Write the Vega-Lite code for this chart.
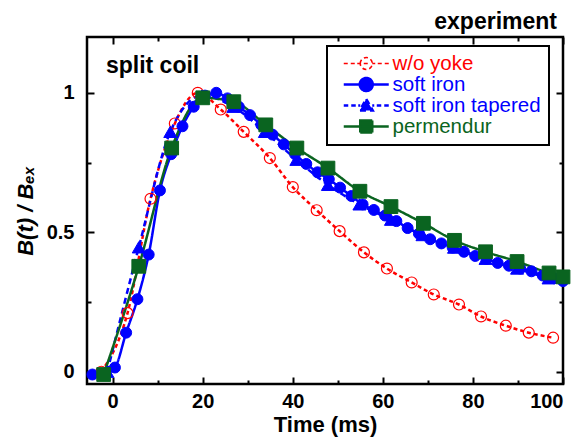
{
  "$schema": "https://vega.github.io/schema/vega-lite/v6.json",
  "width": 476,
  "height": 347,
  "autosize": {"type": "none"},
  "padding": {"left": 87, "top": 37, "right": 20, "bottom": 55},
  "background": "white",
  "config": {
    "view": {"stroke": "black", "strokeWidth": 2.5},
    "font": "Liberation Sans",
    "axis": {
      "domain": false, "grid": false, "tickColor": "black", "tickWidth": 2,
      "labelColor": "black", "titleColor": "black",
      "labelFont": "Liberation Sans", "titleFont": "Liberation Sans",
      "labelFontWeight": "bold", "labelFontSize": 20,
      "titleFontSize": 22, "titleFontWeight": "bold"
    }
  },
  "title": {"text": "experiment", "anchor": "end", "frame": "group", "fontSize": 23, "fontWeight": "bold", "font": "Liberation Sans", "color": "black", "offset": 2, "dx": -6},
  "datasets": {
    "curves": [
      {"series": "w/o yoke", "t": -2.5, "b": 0.0},
      {"series": "w/o yoke", "t": 3.3, "b": 0.21},
      {"series": "w/o yoke", "t": 8.4, "b": 0.62},
      {"series": "w/o yoke", "t": 13.8, "b": 0.89},
      {"series": "w/o yoke", "t": 18.9, "b": 1.0},
      {"series": "w/o yoke", "t": 24.0, "b": 0.94},
      {"series": "w/o yoke", "t": 29.1, "b": 0.86},
      {"series": "w/o yoke", "t": 34.9, "b": 0.766},
      {"series": "w/o yoke", "t": 40.0, "b": 0.662},
      {"series": "w/o yoke", "t": 45.3, "b": 0.579},
      {"series": "w/o yoke", "t": 50.4, "b": 0.504},
      {"series": "w/o yoke", "t": 55.8, "b": 0.428},
      {"series": "w/o yoke", "t": 60.9, "b": 0.37},
      {"series": "w/o yoke", "t": 66.4, "b": 0.32},
      {"series": "w/o yoke", "t": 71.3, "b": 0.277},
      {"series": "w/o yoke", "t": 76.9, "b": 0.241},
      {"series": "w/o yoke", "t": 81.8, "b": 0.198},
      {"series": "w/o yoke", "t": 87.3, "b": 0.165},
      {"series": "w/o yoke", "t": 92.4, "b": 0.14},
      {"series": "w/o yoke", "t": 97.8, "b": 0.122},
      {"series": "soft iron", "t": -4.5, "b": -0.01},
      {"series": "soft iron", "t": -2.0, "b": -0.01},
      {"series": "soft iron", "t": 0.5, "b": 0.015},
      {"series": "soft iron", "t": 3.0, "b": 0.14},
      {"series": "soft iron", "t": 5.5, "b": 0.26},
      {"series": "soft iron", "t": 8.0, "b": 0.42},
      {"series": "soft iron", "t": 10.5, "b": 0.65},
      {"series": "soft iron", "t": 13.0, "b": 0.78},
      {"series": "soft iron", "t": 15.5, "b": 0.88},
      {"series": "soft iron", "t": 18.0, "b": 0.95},
      {"series": "soft iron", "t": 20.5, "b": 0.99},
      {"series": "soft iron", "t": 23.0, "b": 1.0},
      {"series": "soft iron", "t": 25.5, "b": 0.98},
      {"series": "soft iron", "t": 28.0, "b": 0.95},
      {"series": "soft iron", "t": 30.5, "b": 0.92},
      {"series": "soft iron", "t": 33.0, "b": 0.885},
      {"series": "soft iron", "t": 35.5, "b": 0.85},
      {"series": "soft iron", "t": 38.0, "b": 0.815},
      {"series": "soft iron", "t": 40.5, "b": 0.78},
      {"series": "soft iron", "t": 43.0, "b": 0.745},
      {"series": "soft iron", "t": 45.5, "b": 0.715},
      {"series": "soft iron", "t": 48.0, "b": 0.69},
      {"series": "soft iron", "t": 50.5, "b": 0.66},
      {"series": "soft iron", "t": 53.0, "b": 0.63},
      {"series": "soft iron", "t": 55.5, "b": 0.6},
      {"series": "soft iron", "t": 58.0, "b": 0.58},
      {"series": "soft iron", "t": 60.5, "b": 0.56},
      {"series": "soft iron", "t": 63.0, "b": 0.54},
      {"series": "soft iron", "t": 65.5, "b": 0.515},
      {"series": "soft iron", "t": 68.0, "b": 0.495},
      {"series": "soft iron", "t": 70.5, "b": 0.475},
      {"series": "soft iron", "t": 73.0, "b": 0.46},
      {"series": "soft iron", "t": 75.5, "b": 0.445},
      {"series": "soft iron", "t": 78.0, "b": 0.43},
      {"series": "soft iron", "t": 80.5, "b": 0.415},
      {"series": "soft iron", "t": 83.0, "b": 0.405},
      {"series": "soft iron", "t": 85.5, "b": 0.39},
      {"series": "soft iron", "t": 88.0, "b": 0.38},
      {"series": "soft iron", "t": 90.5, "b": 0.37},
      {"series": "soft iron", "t": 93.0, "b": 0.36},
      {"series": "soft iron", "t": 95.5, "b": 0.345},
      {"series": "soft iron", "t": 98.0, "b": 0.335},
      {"series": "soft iron", "t": 100.0, "b": 0.325},
      {"series": "soft iron tapered", "t": -1.2, "b": 0.0},
      {"series": "soft iron tapered", "t": 5.8, "b": 0.446},
      {"series": "soft iron tapered", "t": 12.8, "b": 0.86},
      {"series": "soft iron tapered", "t": 19.8, "b": 0.99},
      {"series": "soft iron tapered", "t": 26.8, "b": 0.95},
      {"series": "soft iron tapered", "t": 33.8, "b": 0.86},
      {"series": "soft iron tapered", "t": 40.8, "b": 0.76},
      {"series": "soft iron tapered", "t": 47.8, "b": 0.67},
      {"series": "soft iron tapered", "t": 54.8, "b": 0.6},
      {"series": "soft iron tapered", "t": 61.8, "b": 0.545},
      {"series": "soft iron tapered", "t": 68.8, "b": 0.49},
      {"series": "soft iron tapered", "t": 75.8, "b": 0.445},
      {"series": "soft iron tapered", "t": 82.8, "b": 0.405},
      {"series": "soft iron tapered", "t": 89.8, "b": 0.37},
      {"series": "soft iron tapered", "t": 96.8, "b": 0.335},
      {"series": "permendur", "t": -2.0, "b": -0.01},
      {"series": "permendur", "t": 5.8, "b": 0.378},
      {"series": "permendur", "t": 13.1, "b": 0.802},
      {"series": "permendur", "t": 20.0, "b": 0.982},
      {"series": "permendur", "t": 26.9, "b": 0.968},
      {"series": "permendur", "t": 34.0, "b": 0.885},
      {"series": "permendur", "t": 40.9, "b": 0.802},
      {"series": "permendur", "t": 47.8, "b": 0.73},
      {"series": "permendur", "t": 54.9, "b": 0.647},
      {"series": "permendur", "t": 61.8, "b": 0.592},
      {"series": "permendur", "t": 69.0, "b": 0.532},
      {"series": "permendur", "t": 75.9, "b": 0.471},
      {"series": "permendur", "t": 82.8, "b": 0.43},
      {"series": "permendur", "t": 89.8, "b": 0.395},
      {"series": "permendur", "t": 96.9, "b": 0.354},
      {"series": "permendur", "t": 100.0, "b": 0.34}
    ]
  },
  "data": {"name": "curves"},
  "layer": [
    {
      "mark": {"type": "line", "strokeWidth": 2.5, "interpolate": "monotone"},
      "encoding": {
        "x": {"field": "t", "type": "quantitative",
          "scale": {"domain": [-5.7, 100], "nice": false, "zero": false},
          "axis": {"orient": "bottom", "values": [0, 20, 40, 60, 80, 100], "format": "d", "ticks": false, "labelPadding": 7, "title": "Time (ms)", "titlePadding": 3}},
        "y": {"field": "b", "type": "quantitative",
          "scale": {"domain": [-0.044, 1.2], "nice": false, "zero": false},
          "axis": {"orient": "left", "values": [0, 0.5, 1], "format": "~g", "ticks": false, "labelPadding": 13, "title": "B(t) / Bₑₓ", "titleFontStyle": "italic", "titlePadding": 9}},
        "color": {"field": "series", "type": "nominal",
          "scale": {"domain": ["w/o yoke", "soft iron", "soft iron tapered", "permendur"], "range": ["#ff0000", "#0000ff", "#0000ff", "#0a6420"]},
          "legend": {
            "orient": "none", "legendX": 240, "legendY": 9, "title": null,
            "labelFontSize": 20.5, "labelFont": "Liberation Sans", "labelFontWeight": "normal",
            "symbolSize": 100, "symbolOffset": 21, "labelOffset": 16,
            "padding": 8, "rowPadding": 0, "clipHeight": 19,
            "fillColor": "white", "strokeColor": "black", "cornerRadius": 0,
            "encode": {
              "legend": {"update": {"strokeWidth": {"value": 2}}},
              "symbols": {"update": {
                "shape": {"signal": "datum.value === 'w/o yoke' ? 'M-4.5,0H-3.7M-3.1,0H-2.3M-1.8,0H-1.2M1.2,0H1.8M2.3,0H3.1M3.7,0H4.5M-0.5,0H0.5M-1.2,0A1.2,1.2,0,1,1,1.2,0A1.2,1.2,0,1,1,-1.2,0Z' : datum.value === 'soft iron' ? 'M-4.5,0H4.5M-1.3,0A1.3,1.3,0,1,1,1.3,0A1.3,1.3,0,1,1,-1.3,0Z' : datum.value === 'soft iron tapered' ? 'M-4.5,0H-3.6M-3.0,0H-2.1M-1.6,0H-1.2M1.2,0H1.6M2.1,0H3.0M3.6,0H4.5M0,-1.3L1.3,1.0L-1.3,1.0Z' : 'M-4.5,0H4.5M-1.2,-1.2H1.2V1.2H-1.2Z'"},
                "fill": {"signal": "datum.value === 'w/o yoke' ? 'transparent' : scale('color', datum.value)"},
                "stroke": {"signal": "scale('color', datum.value)"},
                "strokeDash": {"value": []},
                "strokeWidth": {"signal": "datum.value === 'w/o yoke' ? 1.6 : 2.5"},
                "opacity": {"value": 1}
              }},
              "labels": {"update": {"fill": {"signal": "scale('color', datum.value)"}}}
            }
          }},
        "strokeDash": {"field": "series", "type": "nominal",
          "scale": {"domain": ["w/o yoke", "soft iron", "soft iron tapered", "permendur"], "range": [[4, 3], [1, 0], [6, 4], [1, 0]]},
          "legend": null}
      }
    },
    {
      "transform": [{"filter": "datum.series === 'w/o yoke'"}],
      "mark": {"type": "point", "shape": "circle", "size": 120, "filled": false, "fill": "transparent", "stroke": "#ff0000", "strokeWidth": 1.2, "opacity": 1},
      "encoding": {
        "x": {"field": "t", "type": "quantitative", "axis": null},
        "y": {"field": "b", "type": "quantitative", "axis": null}
      }
    },
    {
      "transform": [{"filter": "datum.series === 'soft iron'"}],
      "mark": {"type": "point", "shape": "circle", "size": 120, "filled": true, "fill": "#0000ff", "stroke": "#0000ff", "strokeWidth": 1, "opacity": 1},
      "encoding": {
        "x": {"field": "t", "type": "quantitative", "axis": null},
        "y": {"field": "b", "type": "quantitative", "axis": null}
      }
    },
    {
      "transform": [{"filter": "datum.series === 'soft iron tapered'"}],
      "mark": {"type": "point", "shape": "triangle-up", "size": 170, "filled": true, "fill": "#0000ff", "stroke": "#0000ff", "strokeWidth": 1, "opacity": 1},
      "encoding": {
        "x": {"field": "t", "type": "quantitative", "axis": null},
        "y": {"field": "b", "type": "quantitative", "axis": null}
      }
    },
    {
      "transform": [{"filter": "datum.series === 'permendur'"}],
      "mark": {"type": "point", "shape": "square", "size": 190, "filled": true, "fill": "#0a6420", "stroke": "#0a6420", "strokeWidth": 1, "opacity": 1},
      "encoding": {
        "x": {"field": "t", "type": "quantitative", "axis": null},
        "y": {"field": "b", "type": "quantitative", "axis": null}
      }
    },
    {
      "mark": {"type": "point", "opacity": 0},
      "encoding": {
        "x": {"field": "t", "type": "quantitative", "axis": {"orient": "bottom", "values": [0, 20, 40, 60, 80, 100], "labels": false, "title": null, "tickSize": -7}},
        "y": {"field": "b", "type": "quantitative", "axis": {"orient": "left", "values": [0, 0.5, 1], "labels": false, "title": null, "tickSize": -7}}
      }
    },
    {
      "mark": {"type": "point", "opacity": 0},
      "encoding": {
        "x": {"field": "t", "type": "quantitative", "axis": {"orient": "bottom", "values": [10, 30, 50, 70, 90], "labels": false, "title": null, "tickSize": -4}},
        "y": {"field": "b", "type": "quantitative", "axis": {"orient": "left", "values": [0.25, 0.75], "labels": false, "title": null, "tickSize": -4}}
      }
    },
    {
      "mark": {"type": "point", "opacity": 0},
      "encoding": {
        "x": {"field": "t", "type": "quantitative", "axis": {"orient": "top", "values": [0, 20, 40, 60, 80, 100], "labels": false, "title": null, "tickSize": -7}},
        "y": {"field": "b", "type": "quantitative", "axis": {"orient": "right", "values": [0, 0.5, 1], "labels": false, "title": null, "tickSize": -7}}
      }
    },
    {
      "mark": {"type": "point", "opacity": 0},
      "encoding": {
        "x": {"field": "t", "type": "quantitative", "axis": {"orient": "top", "values": [10, 30, 50, 70, 90], "labels": false, "title": null, "tickSize": -4}},
        "y": {"field": "b", "type": "quantitative", "axis": {"orient": "right", "values": [0.25, 0.75], "labels": false, "title": null, "tickSize": -4}}
      }
    },
    {
      "data": {"values": [{}]},
      "mark": {"type": "text", "text": "split coil", "align": "left", "baseline": "alphabetic", "fontSize": 23, "fontWeight": "bold", "font": "Liberation Sans", "color": "black"},
      "encoding": {
        "x": {"datum": -1.5, "type": "quantitative", "axis": null},
        "y": {"datum": 1.07, "type": "quantitative", "axis": null}
      }
    }
  ],
  "resolve": {"axis": {"x": "independent", "y": "independent"}}
}
